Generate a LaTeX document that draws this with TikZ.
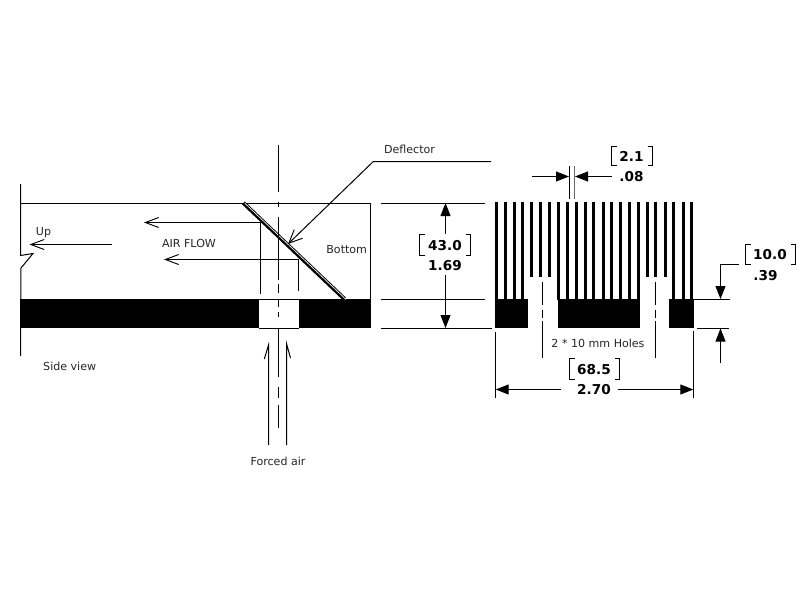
\documentclass[tikz,border=0pt]{standalone}
\usepackage{fontspec}
\setmainfont{DejaVu Sans}
\usetikzlibrary{arrows.meta}
\tikzset{
  ln/.style={line width=0.75pt,black},
  thinln/.style={line width=0.65pt,black},
  openarrow/.style={ln,-{Straight Barb[length=10pt,width=7.5pt,line width=0.7pt]}},
  solidarrow/.style={ln,-{Triangle[length=9.75pt,width=7.5pt]}},
  lab/.style={inner sep=0pt,text=black!85,font=\fontsize{8.3}{10}\selectfont},
  dim/.style={inner sep=0pt,text=black,font=\fontsize{10.2}{12}\selectfont\bfseries},
  solid fill/.style={fill=black,draw=none},
}
\newcommand{\brk}[4]{% x1 y1 x2 y2
  \draw[thinln] (#1+5,#2) -- (#1,#2) -- (#1,#4) -- (#1+5,#4);
  \draw[thinln] (#3-5,#2) -- (#3,#2) -- (#3,#4) -- (#3-5,#4);
}
\begin{document}
\begin{tikzpicture}[x=0.75pt,y=-0.75pt]
\useasboundingbox (0,0) rectangle (800,600);
\fill[white] (0,0) rectangle (800,600);

% ---- side view: body
\fill[solid fill] (20,299) rectangle (259,328);
\fill[solid fill] (299,299) rectangle (371,328);
\draw[ln] (259,299.5) -- (299,299.5);
\draw[ln] (259,328.5) -- (299,328.5);
\draw[ln] (20,203.5) -- (371,203.5);
\draw[ln] (370.5,203.5) -- (370.5,299);
\draw[ln] (20.5,184) -- (20.5,255.5) -- (33,253.5) -- (21,268) -- (20.5,356);

% deflector
\coordinate (defA) at (243.5,203);
\coordinate (defB) at (344.5,299);
\draw[line width=3pt,black] (defA) -- (defB);
\draw[line width=0.5pt,white] ([xshift=1pt,yshift=-0.2pt]defA) -- ([xshift=1pt,yshift=-0.2pt]defB);

% centre line, side view
\foreach \a/\b in {145/192,202/207,217/280,284/293,300/307,312/317,328/377,387/398,405/428}
  \draw[ln] (278.5,\a) -- (278.5,\b);

% air flow
\coordinate (flowAstart) at (260.5,294);
\coordinate (flowAcorner) at (260.5,222.5);
\coordinate (flowAtip) at (144,222.5);
\coordinate (flowBstart) at (298.5,291);
\coordinate (flowBcorner) at (298.5,259.5);
\coordinate (flowBtip) at (164,259.5);
\draw[openarrow] (flowAstart) -- (flowAcorner) -- (flowAtip);
\draw[openarrow] (flowBstart) -- (flowBcorner) -- (flowBtip);
\coordinate (upStart) at (112,244.5);
\coordinate (upTip) at (29.5,244.5);
\draw[openarrow] (upStart) -- (upTip);

% forced air half arrows
\draw[ln] (268.5,445) -- (268.5,345) -- (264.3,359);
\draw[ln] (286.5,445) -- (286.5,343.5) -- (290.5,358);

% deflector leader
\coordinate (leadEnd) at (491,161.5);
\coordinate (leadKnee) at (373.3,161.5);
\coordinate (leadTip) at (288,244);
\draw[ln,-{Straight Barb[length=10pt,width=9pt,line width=0.7pt]}] (leadEnd) -- (leadKnee) -- (leadTip);

% labels, side view
\node[lab] (up) at (43.5,233) {Up};
\node[lab] (airflow) at (189,243) {AIR FLOW};
\node[lab] (bottom) at (346.7,249.5) {Bottom};
\node[lab] (sideview) at (69.7,366) {Side view};
\node[lab] (forced) at (278,461) {Forced air};
\node[lab] (deflector) at (409.5,149.5) {Deflector};

% ---- extension lines to front view
\draw[ln] (381,203.5) -- (485,203.5);
\draw[ln] (381,299.5) -- (485,299.5);
\draw[ln] (381,328.5) -- (492,328.5);

% 43.0 dimension
\coordinate (hTop) at (445.5,203);
\coordinate (hTopEnd) at (445.5,234);
\coordinate (hBot) at (445.5,328);
\coordinate (hBotEnd) at (445.5,275);
\draw[solidarrow] (hTopEnd) -- (hTop);
\draw[solidarrow] (hBotEnd) -- (hBot);
\brk{419.5}{234.5}{470.5}{255.5}
\node[dim] (d43) at (445,246) {43.0};
\node[dim] (d169) at (445,266) {1.69};

% ---- front view: fins
\foreach \c in {495,504,513,521,557,566,575,584,592,602,610,619,628,637,672,682,690}
  \fill[solid fill] (\c,202) rectangle (\c+3,300);
\foreach \c in {530,539,548,646,654,664}
  \fill[solid fill] (\c,202) rectangle (\c+3,277);
% bases
\fill[solid fill] (495,299) rectangle (528,328);
\fill[solid fill] (558,299) rectangle (640,328);
\fill[solid fill] (669,299) rectangle (694,328);

% hole centre lines
\foreach \x in {542.5,655.5}
  \foreach \a/\b in {281.7/305,310/317.5,321/358}
    \draw[ln] (\x,\a) -- (\x,\b);
\node[lab] (holes) at (598,343.5) {2 * 10 mm Holes};

% 2.1 dimension
\draw[ln] (569.5,166) -- (569.5,199);
\draw[thinln,black!60] (574.5,166) -- (574.5,199);
\coordinate (wL) at (532,176.5);
\coordinate (wLtip) at (569,176.5);
\coordinate (wR) at (611.5,176.5);
\coordinate (wRtip) at (575,176.5);
\draw[solidarrow] (wL) -- (wLtip);
\draw[solidarrow] (wR) -- (wRtip);
\brk{611.5}{146.5}{652.5}{165.5}
\node[dim] (d21) at (631.5,156.5) {2.1};
\node[dim] (d08) at (631.5,176.5) {.08};

% 10.0 dimension
\draw[ln] (694,299.5) -- (730,299.5);
\draw[ln] (697,328.5) -- (729,328.5);
\coordinate (tStart) at (739,264.5);
\coordinate (tKnee) at (720.5,264.5);
\coordinate (tTip) at (720.5,299);
\coordinate (bStart) at (720.5,363);
\coordinate (bTip) at (720.5,328.5);
\draw[solidarrow] (tStart) -- (tKnee) -- (tTip);
\draw[solidarrow] (bStart) -- (bTip);
\brk{745.5}{244.5}{795.5}{264.5}
\node[dim] (d100) at (770,255) {10.0};
\node[dim] (d39) at (765.5,276) {.39};

% 68.5 dimension
\draw[ln] (495.5,332) -- (495.5,398);
\draw[ln] (693.5,331) -- (693.5,398);
\coordinate (wdL) at (495.7,389.5);
\coordinate (wdLend) at (561,389.5);
\coordinate (wdR) at (693.3,389.5);
\coordinate (wdRend) at (618,389.5);
\draw[solidarrow] (wdLend) -- (wdL);
\draw[solidarrow] (wdRend) -- (wdR);
\brk{569.5}{358.5}{619.5}{379.5}
\node[dim] (d685) at (594,369.5) {68.5};
\node[dim] (d270) at (594,389.5) {2.70};
\end{tikzpicture}
\end{document}
